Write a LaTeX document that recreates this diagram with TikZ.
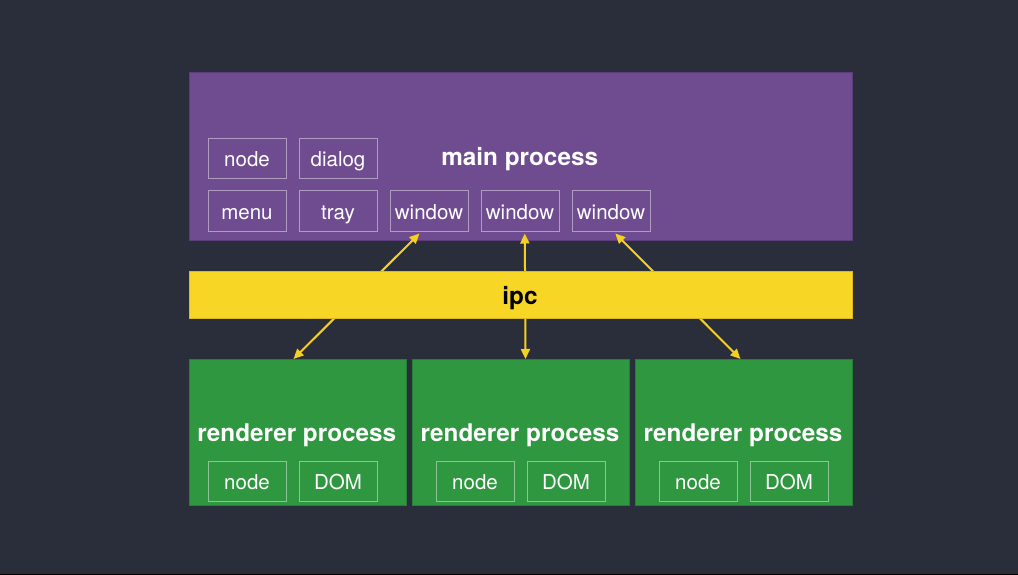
\documentclass[tikz,border=0pt]{standalone}
\usepackage{fontspec}
\setmainfont{TeX Gyre Heros}
\usetikzlibrary{arrows.meta}
\definecolor{bgc}{HTML}{2A2E3B}
\definecolor{purp}{HTML}{6F4B90}
\definecolor{purpedge}{HTML}{5E3D7C}
\definecolor{yel}{HTML}{F8D626}
\definecolor{yeledge}{HTML}{D9B820}
\definecolor{grn}{HTML}{2E973F}
\definecolor{grnedge}{HTML}{257F34}
\definecolor{arrc}{HTML}{F5D021}
\tikzset{
  panel/.style={draw=#1edge, fill=#1, line width=1pt, inner sep=0pt, anchor=north west},
  smallbox/.style={draw=white, draw opacity=0.45, line width=1pt, minimum width=78pt, minimum height=40pt,
    inner sep=0pt, text=white, text height=16pt, text depth=0pt,
    font=\fontsize{20.5}{24}\selectfont, anchor=north west},
  title/.style={text=white, font=\bfseries\fontsize{24.3}{28}\selectfont, anchor=base, inner sep=0pt},
  arr/.style={draw=arrc, line width=2pt, {Triangle[length=10pt,width=9pt]}-{Triangle[length=10pt,width=9pt]}},
}
\begin{document}
\begin{tikzpicture}[x=1pt,y=-1pt]
\useasboundingbox (0,0) rectangle (1018,575);
\fill[bgc] (0,0) rectangle (1018,575);
\fill[black] (0,573.5) rectangle (1018,575);

% main process panel
\node[panel=purp, minimum width=663pt, minimum height=167pt] (main) at (188.5,72.5) {};
\node[title] (maint) at (519.7,166) {main process};
\node[smallbox] (mnode) at (207.5,138.5) {node};
\node[smallbox] (dialog) at (298.5,138.5) {dialog};
\node[smallbox] (menu) at (207.5,190.5) {menu};
\node[smallbox] (tray) at (298.5,190.5) {tray};
\node[smallbox] (w1) at (389.5,190.5) {window};
\node[smallbox] (w2) at (480.5,190.5) {window};
\node[smallbox] (w3) at (571.5,190.5) {window};

% renderer panels
\node[panel=grn, minimum width=217pt, minimum height=146pt] (r1) at (188.5,359) {};
\node[panel=grn, minimum width=217pt, minimum height=146pt] (r2) at (411.5,359) {};
\node[panel=grn, minimum width=217pt, minimum height=146pt] (r3) at (634.5,359) {};
\node[title] (r1t) at (296.8,441.5) {renderer process};
\node[title] (r2t) at (520,441.5) {renderer process};
\node[title] (r3t) at (743,441.5) {renderer process};
\node[smallbox] (n1) at (207.5,461) {node};
\node[smallbox] (d1) at (298.5,461) {DOM};
\node[smallbox] (n2) at (435.5,461) {node};
\node[smallbox] (d2) at (526.5,461) {DOM};
\node[smallbox] (n3) at (658.5,461) {node};
\node[smallbox] (d3) at (749.5,461) {DOM};

% arrows (behind the ipc bar)
\draw[arr] ([xshift=-9.5pt,yshift=-2pt]w1.south) -- ([xshift=-4pt]r1.north);
\draw[arr] ([xshift=4.8pt,yshift=-2pt]w2.south) -- ([xshift=5pt]r2.north);
\draw[arr] ([xshift=4.3pt,yshift=-2pt]w3.south) -- ([xshift=-3pt]r3.north);

% ipc bar
\node[panel=yel, minimum width=663pt, minimum height=47pt] (ipc) at (188.5,271) {};
\node[title, text=black] (ipct) at (520,304) {ipc};
\end{tikzpicture}
\end{document}
